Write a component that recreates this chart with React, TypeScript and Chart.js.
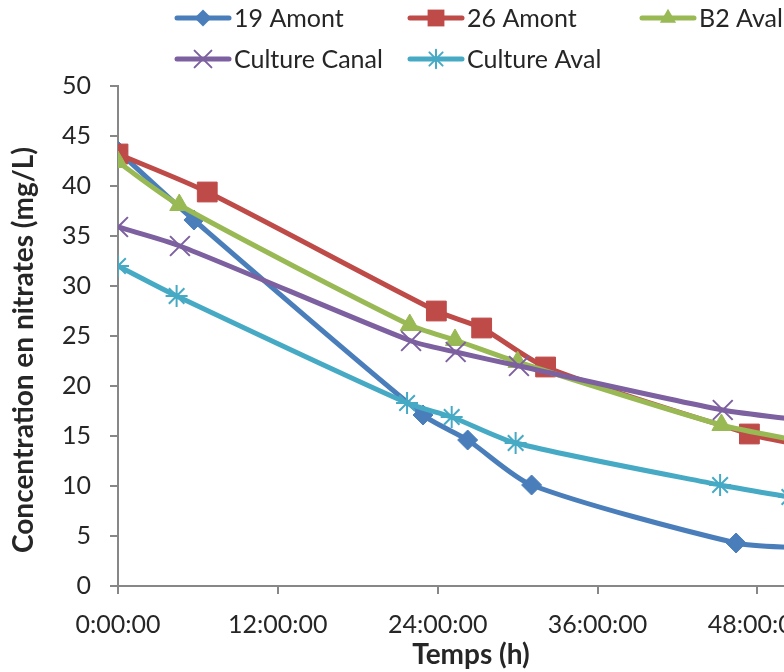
import React, { useEffect, useRef } from "react";
import { Chart, registerables } from "chart.js";

Chart.register(...registerables);

// ---- Data (hours, mg/L) ----
const seriesNames = ["19 Amont", "26 Amont", "B2 Aval", "Culture Canal", "Culture Aval"];

const hours19Amont = [0, 5.7, 22.9, 26.25, 31.05, 46.4, 51.2];
const values19Amont = [43.5, 36.6, 17.1, 14.6, 10.1, 4.3, 3.8];

const hours26Amont = [0, 6.7, 23.9, 27.3, 32.1, 47.4, 51.2];
const values26Amont = [43.2, 39.4, 27.5, 25.8, 21.9, 15.2, 14.1];

const hoursB2Aval = [0, 4.6, 21.9, 25.3, 30.0, 45.3, 51.2];
const valuesB2Aval = [42.4, 38.1, 26.1, 24.6, 22.4, 16.1, 14.5];

const hoursCultureCanal = [0, 4.65, 22.0, 25.35, 30.1, 45.4, 51.2];
const valuesCultureCanal = [35.9, 34.0, 24.5, 23.4, 22.0, 17.6, 16.6];

const hoursCultureAval = [0, 4.4, 21.7, 25.05, 29.85, 45.2, 50.4];
const valuesCultureAval = [32.0, 29.0, 18.3, 16.9, 14.3, 10.1, 8.9];

const xTickHours = [0, 12, 24, 36, 48];
const xMaxHours = 53;
const yMin = 0;
const yMax = 50;
const yStep = 5;

const xTitle = "Temps (h)";
const yTitle = "Concentration en nitrates (mg/L)";

const colors = ["#4A7EBB", "#BE4B48", "#98B954", "#7D60A0", "#46AAC5"];
const pointStyles = ["rectRot", "rect", "triangle", "crossRot", "star"];
const pointRadii = [10, 14, 11, 14, 11];

const FONT = "Lato";
const TEXT = "#262626";
const AXIS = "#878787";

function toPoints(xs: number[], ys: number[]) {
  return xs.map((x, i) => ({ x, y: ys[i] }));
}

function drawMarker(ctx: CanvasRenderingContext2D, style: string, x: number, y: number, r: number, color: string) {
  ctx.save();
  ctx.fillStyle = color;
  ctx.strokeStyle = color;
  ctx.lineWidth = 2;
  ctx.beginPath();
  if (style === "rectRot") {
    ctx.moveTo(x - r, y);
    ctx.lineTo(x, y - r);
    ctx.lineTo(x + r, y);
    ctx.lineTo(x, y + r);
    ctx.closePath();
    ctx.fill();
  } else if (style === "rect") {
    const s = r * Math.SQRT1_2;
    ctx.rect(x - s, y - s, 2 * s, 2 * s);
    ctx.fill();
  } else if (style === "triangle") {
    for (let k = 0; k < 3; k++) {
      const a = (k * 2 * Math.PI) / 3;
      const px = x + Math.sin(a) * r;
      const py = y - Math.cos(a) * r;
      if (k === 0) ctx.moveTo(px, py);
      else ctx.lineTo(px, py);
    }
    ctx.closePath();
    ctx.fill();
  } else if (style === "crossRot") {
    const o = r * Math.SQRT1_2;
    ctx.moveTo(x - o, y - o);
    ctx.lineTo(x + o, y + o);
    ctx.moveTo(x + o, y - o);
    ctx.lineTo(x - o, y + o);
    ctx.stroke();
  } else if (style === "star") {
    const o = r * Math.SQRT1_2;
    ctx.moveTo(x, y - r);
    ctx.lineTo(x, y + r);
    ctx.moveTo(x - r, y);
    ctx.lineTo(x + r, y);
    ctx.moveTo(x - o, y - o);
    ctx.lineTo(x + o, y + o);
    ctx.moveTo(x + o, y - o);
    ctx.lineTo(x - o, y + o);
    ctx.stroke();
  }
  ctx.restore();
}

const legendPlugin = {
  id: "excelLegend",
  afterDraw(chart: any) {
    const ctx: CanvasRenderingContext2D = chart.ctx;
    const colX = [175, 408, 640];
    const rowY = [18, 59];
    const lineLen = 56;
    ctx.save();
    seriesNames.forEach((name, i) => {
      const col = i % 3;
      const row = Math.floor(i / 3);
      const x = colX[col];
      const y = rowY[row];
      ctx.strokeStyle = colors[i];
      ctx.lineWidth = 5;
      ctx.lineCap = "round";
      ctx.beginPath();
      ctx.moveTo(x + 2, y);
      ctx.lineTo(x + lineLen - 2, y);
      ctx.stroke();
      drawMarker(ctx, pointStyles[i], x + lineLen / 2, y, pointRadii[i] * 0.85, colors[i]);
      ctx.fillStyle = TEXT;
      ctx.font = `25px ${FONT}`;
      ctx.textBaseline = "middle";
      ctx.textAlign = "left";
      ctx.fillText(name, x + lineLen + 3, y + 1);
    });
    // Y-axis title (Excel centres it slightly lower than the plot centre)
    ctx.translate(24, 350);
    ctx.rotate(-Math.PI / 2);
    ctx.fillStyle = TEXT;
    ctx.font = `bold 28px ${FONT}`;
    ctx.textAlign = "center";
    ctx.textBaseline = "middle";
    ctx.fillText(yTitle, 0, 0);
    ctx.restore();
  },
};

export default function App() {
  const canvasRef = useRef<HTMLCanvasElement | null>(null);

  useEffect(() => {
    const canvas = canvasRef.current;
    if (!canvas) return;
    const allHours = [hours19Amont, hours26Amont, hoursB2Aval, hoursCultureCanal, hoursCultureAval];
    const allValues = [values19Amont, values26Amont, valuesB2Aval, valuesCultureCanal, valuesCultureAval];

    const datasets = seriesNames.map((name, i) => ({
      label: name,
      data: toPoints(allHours[i], allValues[i]),
      borderColor: colors[i],
      backgroundColor: colors[i],
      borderWidth: 5,
      tension: 0.25,
      pointStyle: pointStyles[i],
      pointRadius: pointRadii[i],
      pointBackgroundColor: colors[i],
      pointBorderColor: colors[i],
      pointBorderWidth: i >= 3 ? 2 : 1,
      order: seriesNames.length - i,
      fill: false,
    }));

    const chart = new Chart(canvas, {
      type: "line",
      data: { datasets },
      plugins: [legendPlugin],
      options: {
        animation: false,
        responsive: false,
        devicePixelRatio: 1,
        layout: { padding: { top: 86, right: 26, left: 0, bottom: 0 } },
        plugins: {
          legend: { display: false },
          tooltip: { enabled: false },
        },
        scales: {
          x: {
            type: "linear",
            min: 0,
            max: xMaxHours,
            afterFit: (s: any) => {
              s.height = 86;
            },
            afterBuildTicks: (s: any) => {
              s.ticks = xTickHours.map((v) => ({ value: v }));
            },
            ticks: {
              includeBounds: false,
              padding: 16,
              color: TEXT,
              font: { family: FONT, size: 25 },
              maxRotation: 0,
              callback: (v: any) => `${v}:00:00`,
            },
            grid: {
              drawOnChartArea: false,
              drawTicks: true,
              tickLength: 8,
              color: AXIS,
              lineWidth: 2,
            },
            border: { display: true, color: AXIS, width: 2 },
            title: {
              display: true,
              text: xTitle,
              color: TEXT,
              font: { family: FONT, size: 28, weight: "bold" },
              padding: { top: 0, bottom: 0 },
            },
          },
          y: {
            type: "linear",
            min: yMin,
            max: yMax,
            afterFit: (s: any) => {
              s.width = 118;
            },
            ticks: {
              stepSize: yStep,
              padding: 19,
              color: TEXT,
              font: { family: FONT, size: 25 },
            },
            grid: {
              drawOnChartArea: false,
              drawTicks: true,
              tickLength: 8,
              color: AXIS,
              lineWidth: 2,
            },
            border: { display: true, color: AXIS, width: 2 },
            title: { display: false },
          },
        },
      },
    } as any);

    return () => {
      chart.destroy();
    };
  }, []);

  return (
    <div
      style={{
        position: "fixed",
        left: 0,
        top: 0,
        width: 784,
        height: 672,
        overflow: "hidden",
        background: "#ffffff",
      }}
    >
      <canvas ref={canvasRef} width={850} height={672} style={{ display: "block", width: 850, height: 672 }} />
    </div>
  );
}
